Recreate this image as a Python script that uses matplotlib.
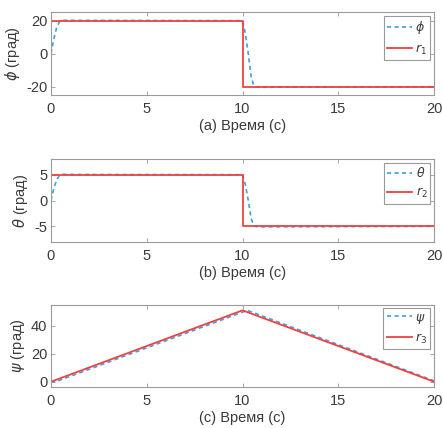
import matplotlib
matplotlib.use('Agg')
import matplotlib.pyplot as plt

# reference signals and responses
r1_t = [0, 10, 10, 20]
r1_v = [20, 20, -20, -20]
phi_t = [0, 0.15, 0.3, 0.45, 0.6, 0.8, 10.0, 10.15, 10.3, 10.45, 10.6, 10.8, 20]
phi_v = [0, 9, 16, 19.5, 20.3, 20.2, 20, 12, 0, -14, -19.8, -20.3, -20]

r2_t = [0, 10, 10, 20]
r2_v = [5, 5, -5, -5]
theta_t = [0, 0.15, 0.3, 0.45, 0.6, 0.8, 10.0, 10.15, 10.3, 10.45, 10.6, 10.8, 20]
theta_v = [0, 2.3, 4.0, 4.9, 5.1, 5.05, 5, 3, 0, -3.5, -4.95, -5.1, -5]

r3_t = [0, 10, 20]
r3_v = [0, 51, 0]
psi_t = [0, 0.25, 10.25, 20]
psi_v = [0, 0, 51, 0.6]

xticks = [0, 5, 10, 15, 20]

panels = [
    dict(rt=r1_t, rv=r1_v, yt=phi_t, yv=phi_v, ylim=(-25, 25), yticks=[-20, 0, 20],
         ylabel=r'$\phi$ (град)', xlabel='(a) Время (с)', lab=r'$\phi$', rlab=r'$r_1$'),
    dict(rt=r2_t, rv=r2_v, yt=theta_t, yv=theta_v, ylim=(-8, 8), yticks=[-5, 0, 5],
         ylabel=r'$\theta$ (град)', xlabel='(b) Время (с)', lab=r'$\theta$', rlab=r'$r_2$'),
    dict(rt=r3_t, rv=r3_v, yt=psi_t, yv=psi_v, ylim=(-4, 55), yticks=[0, 20, 40],
         ylabel=r'$\psi$ (град)', xlabel='(c) Время (с)', lab=r'$\psi$', rlab=r'$r_3$'),
]

plt.rcParams['font.family'] = ['Liberation Sans', 'DejaVu Sans']
plt.rcParams['mathtext.fontset'] = 'dejavusans'
plt.rcParams['axes.unicode_minus'] = False
txt = '#3a3a3a'
edge = '#9a9a9a'

fig = plt.figure(figsize=(4.43, 4.28), dpi=100)
bottoms = [0.778, 0.435, 0.095]

for p, b in zip(panels, bottoms):
    ax = fig.add_axes([0.115, b, 0.865, 0.193])
    ax.plot(p['yt'], p['yv'], linestyle=(0, (2.5, 2)), color='#3fa0e0', lw=1.2, label=p['lab'])
    ax.plot(p['rt'], p['rv'], color='#f04040', lw=1.3, label=p['rlab'])
    ax.set_xlim(0, 20)
    ax.set_ylim(*p['ylim'])
    ax.set_xticks(xticks)
    ax.set_yticks(p['yticks'])
    ax.tick_params(direction='in', top=True, right=True, length=3, width=0.6,
                   colors=edge, labelcolor=txt, labelsize=10.5)
    ax.tick_params(axis='x', pad=5)
    ax.tick_params(axis='y', pad=2.5)
    for s in ax.spines.values():
        s.set_color(edge)
        s.set_linewidth(0.8)
    ax.set_xlabel(p['xlabel'], fontsize=10.5, color=txt, labelpad=2)
    ax.set_ylabel(p['ylabel'], fontsize=10.5, color=txt, labelpad=3)
    leg = ax.legend(loc='upper right', fontsize=9, handlelength=2.0, fancybox=False,
                    framealpha=1, borderaxespad=0.3, borderpad=0.25, labelspacing=0.5,
                    handletextpad=0.3, edgecolor=edge)
    leg.get_frame().set_linewidth(0.8)
    for t in leg.get_texts():
        t.set_color(txt)

fig.savefig('out.png', dpi=100)
